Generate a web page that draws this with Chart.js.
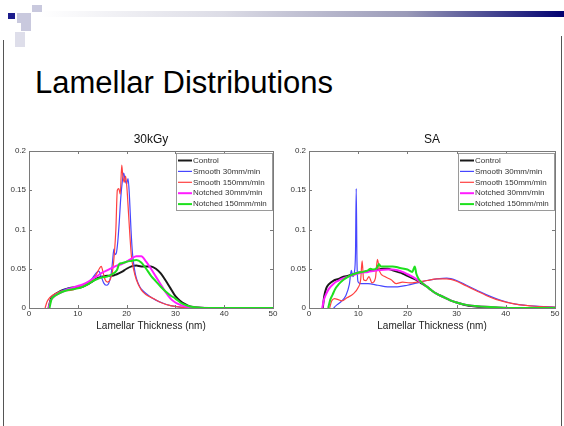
<!DOCTYPE html>
<html>
<head>
<meta charset="utf-8">
<title>Lamellar Distributions</title>
<script src="https://cdn.jsdelivr.net/npm/chart.js@4.4.1/dist/chart.umd.min.js"></script>
<style>
body { margin: 0; width: 564px; height: 426px; background: #fff; position: relative; overflow: hidden; font-family: "Liberation Sans", Arial, sans-serif; }
.bar { position: absolute; left: 40px; top: 11px; width: 524px; height: 6px; background: linear-gradient(to right, #ffffff 0%, #dcdce6 35%, #9a9ab8 70%, #000070 100%); }
.sq { position: absolute; background: #c9c9de; }
.sq.dark { background: #1c1c8c; }
.edge { position: absolute; width: 1px; background: #555; }
h1 { position: absolute; left: 35px; top: 67px; margin: 0; font-size: 31px; line-height: 31px; font-weight: normal; color: #000; white-space: nowrap; }
canvas { position: absolute; top: 130px; }
</style>
</head>
<body>
<div class="bar"></div>
<div class="sq" style="left:32px;top:5px;width:10px;height:7px"></div>
<div class="sq dark" style="left:8px;top:13px;width:7px;height:6px"></div>
<div class="sq" style="left:17px;top:13px;width:14px;height:10px"></div>
<div class="sq" style="left:21px;top:23px;width:10px;height:8px"></div>
<div class="sq" style="left:15px;top:32px;width:10px;height:15px;background:#dedeea"></div>
<div class="edge" style="left:3px;top:40px;height:386px"></div>
<div class="edge" style="left:561px;top:36px;height:390px"></div>
<h1>Lamellar Distributions</h1>
<canvas id="kgy" width="302" height="212" style="left:0px"></canvas>
<canvas id="sa" width="304" height="212" style="left:280px"></canvas>
<script>
'use strict'

let seriesNames = ['Control', 'Smooth 30mm/min', 'Smooth 150mm/min', 'Notched 30mm/min', 'Notched 150mm/min'];
let seriesColors = ['#1a1a1a', '#4646ff', '#ff4040', '#ff1cff', '#1ee01e'];
let seriesWidths = [2, 1.2, 1.2, 2, 2];
let xTicks = [0, 10, 20, 30, 40, 50];
let yTicks = [0, 0.05, 0.1, 0.15, 0.2];

// 30kGy
let kgyControlX = [4, 4.5, 5, 6, 7, 8, 9, 10, 11, 12, 13, 14, 15, 16, 17, 18, 19, 20, 21, 22, 23, 24, 25, 26, 27, 28, 29, 30, 31, 32, 33, 34, 36, 50];
let kgyControlY = [0, 0.012, 0.016, 0.02, 0.023, 0.025, 0.026, 0.026, 0.027, 0.03, 0.034, 0.038, 0.04, 0.041, 0.041, 0.043, 0.046, 0.05, 0.053, 0.054, 0.053, 0.053, 0.053, 0.05, 0.044, 0.035, 0.025, 0.015, 0.009, 0.005, 0.002, 0.001, 0, 0];
let kgySmooth30X = [4, 4.5, 5, 6, 7, 8, 9, 10, 11, 12, 13, 13.7, 14.3, 14.8, 15.3, 15.8, 16.3, 16.8, 17.1, 17.4, 17.6, 17.9, 18.2, 18.5, 18.8, 19.1, 19.4, 19.7, 20.0, 20.3, 20.6, 20.9, 21.2, 21.6, 22, 22.7, 23.5, 24.7, 26, 27.5, 29, 31, 34, 50];
let kgySmooth30Y = [0, 0.01, 0.015, 0.02, 0.023, 0.025, 0.026, 0.027, 0.028, 0.032, 0.038, 0.044, 0.047, 0.04, 0.032, 0.029, 0.031, 0.042, 0.058, 0.075, 0.068, 0.07, 0.085, 0.11, 0.14, 0.16, 0.172, 0.163, 0.158, 0.165, 0.14, 0.1, 0.07, 0.05, 0.038, 0.027, 0.021, 0.015, 0.01, 0.006, 0.003, 0.001, 0, 0];
let kgySmooth150X = [3.3, 3.7, 4.2, 5, 6, 7, 8, 9, 10, 11, 12, 13, 13.8, 14.4, 14.8, 15.2, 15.6, 16.1, 16.6, 17.1, 17.5, 17.8, 18.1, 18.4, 18.7, 19.0, 19.2, 19.5, 19.8, 20.1, 20.4, 20.7, 21.0, 21.4, 22, 23, 24, 25.5, 27, 29, 31, 34, 50];
let kgySmooth150Y = [0, 0.008, 0.013, 0.017, 0.02, 0.022, 0.022, 0.023, 0.026, 0.028, 0.031, 0.036, 0.043, 0.05, 0.053, 0.045, 0.036, 0.033, 0.036, 0.046, 0.07, 0.1, 0.15, 0.152, 0.145, 0.182, 0.17, 0.16, 0.168, 0.15, 0.12, 0.09, 0.065, 0.05, 0.036, 0.023, 0.017, 0.012, 0.007, 0.003, 0.001, 0, 0];
let kgyNotched30X = [4, 4.5, 5, 6, 7, 8, 9, 10, 11, 12, 13, 14, 15, 16, 17, 18, 19, 20, 21, 22, 23, 24, 25, 26, 27, 28, 29, 30, 31, 32, 34, 37, 50];
let kgyNotched30Y = [0, 0.01, 0.014, 0.018, 0.021, 0.024, 0.026, 0.028, 0.03, 0.033, 0.037, 0.041, 0.045, 0.048, 0.051, 0.054, 0.056, 0.059, 0.063, 0.066, 0.066, 0.059, 0.05, 0.04, 0.03, 0.02, 0.012, 0.007, 0.004, 0.002, 0.0005, 0, 0];
let kgyNotched150X = [4.2, 4.6, 5, 6, 7, 8, 9, 10, 11, 12, 13, 14, 15, 16, 17, 18, 18.5, 19, 19.5, 20, 21, 22, 23, 24, 25, 26, 27, 28, 29, 30, 31, 32, 33, 34, 36, 50];
let kgyNotched150Y = [0, 0.011, 0.014, 0.018, 0.021, 0.023, 0.024, 0.025, 0.027, 0.03, 0.034, 0.037, 0.039, 0.04, 0.043, 0.048, 0.056, 0.057, 0.058, 0.059, 0.06, 0.061, 0.058, 0.05, 0.041, 0.034, 0.027, 0.021, 0.016, 0.012, 0.007, 0.004, 0.002, 0.001, 0, 0];

// SA
let saControlX = [2.8, 3.1, 3.5, 4, 5, 6, 7, 8, 9, 10, 11, 12, 13, 14, 15, 16, 17, 18, 19, 20, 21, 22, 23, 24, 25, 26, 27, 28, 29, 30, 31, 32, 33, 35, 37, 40, 50];
let saControlY = [0, 0.015, 0.025, 0.03, 0.035, 0.037, 0.04, 0.041, 0.043, 0.045, 0.046, 0.047, 0.048, 0.049, 0.05, 0.05, 0.048, 0.046, 0.044, 0.041, 0.038, 0.035, 0.031, 0.027, 0.022, 0.018, 0.015, 0.012, 0.009, 0.007, 0.005, 0.0035, 0.0025, 0.0012, 0.0006, 0, 0];
let saSmooth30X = [5, 5.5, 6.5, 7.5, 8.2, 8.6, 8.9, 9.2, 9.45, 9.6, 9.75, 10, 10.5, 12, 14, 16, 18, 20, 22, 24, 26, 28, 30, 32, 34, 36, 38, 40, 42, 44, 46, 48, 50];
let saSmooth30Y = [0, 0.003, 0.008, 0.016, 0.03, 0.048, 0.04, 0.045, 0.07, 0.152, 0.06, 0.033, 0.031, 0.031, 0.029, 0.027, 0.027, 0.029, 0.032, 0.035, 0.037, 0.038, 0.035, 0.029, 0.023, 0.017, 0.012, 0.008, 0.005, 0.0035, 0.0025, 0.0018, 0.0012];
let saSmooth150X = [4.2, 4.6, 5.2, 5.8, 6.7, 7.7, 9, 10, 10.5, 10.8, 11.1, 11.6, 12.2, 12.8, 13.5, 13.9, 14.4, 15.4, 16.7, 17.7, 19, 20.5, 22, 24, 26, 28, 30, 32, 34, 36, 38, 40, 42, 44, 46, 48, 50];
let saSmooth150Y = [0, 0.009, 0.012, 0.011, 0.009, 0.013, 0.018, 0.026, 0.036, 0.06, 0.036, 0.035, 0.04, 0.032, 0.038, 0.062, 0.046, 0.04, 0.036, 0.031, 0.033, 0.032, 0.033, 0.035, 0.037, 0.037, 0.034, 0.028, 0.022, 0.016, 0.011, 0.0075, 0.005, 0.0033, 0.0022, 0.0015, 0.001];
let saNotched30X = [2.7, 3, 3.5, 4, 5, 6, 7, 8, 9, 10, 12, 14, 16, 17, 18, 19, 20, 21, 22, 23, 24, 25, 26, 27, 28, 29, 30, 32, 34, 36, 38, 42, 50];
let saNotched30Y = [0, 0.01, 0.018, 0.024, 0.031, 0.035, 0.038, 0.04, 0.042, 0.044, 0.046, 0.048, 0.049, 0.049, 0.048, 0.046, 0.043, 0.04, 0.036, 0.032, 0.027, 0.022, 0.018, 0.015, 0.012, 0.009, 0.007, 0.004, 0.0025, 0.0015, 0.0008, 0, 0];
let saNotched150X = [3.9, 4.3, 4.8, 5.3, 6, 7, 8, 9, 10, 11, 12, 12.5, 13, 13.8, 14.2, 14.6, 15.5, 17, 18.5, 20, 21, 21.5, 21.8, 22.2, 23, 24, 25, 26, 27, 28, 29, 30, 32, 34, 36, 38, 41, 50];
let saNotched150Y = [0, 0.01, 0.017, 0.024, 0.03, 0.036, 0.04, 0.043, 0.045, 0.046, 0.048, 0.05, 0.049, 0.051, 0.056, 0.053, 0.053, 0.053, 0.051, 0.049, 0.046, 0.053, 0.044, 0.038, 0.032, 0.027, 0.022, 0.018, 0.015, 0.012, 0.009, 0.007, 0.004, 0.0025, 0.0015, 0.0008, 0, 0];

let fontFamily = '"Liberation Sans", Arial, sans-serif';
Chart.defaults.font.family = fontFamily;

function toPoints(xs, ys) {
    let pts = [];
    for (let i = 0; i < xs.length; i++) {
        pts.push({ x: xs[i], y: ys[i] });
    }
    return pts;
}

// axes box with inward ticks, then the legend box in the top right corner
const boxAndLegend = {
    id: 'boxAndLegend',
    afterDatasetsDraw(chart) {
        const { ctx, chartArea } = chart;
        const sx = chart.scales.x;
        const sy = chart.scales.y;
        ctx.save();
        ctx.strokeStyle = '#7a7a7a';
        ctx.lineWidth = 1;
        ctx.strokeRect(Math.round(chartArea.left) + 0.5, Math.round(chartArea.top) + 0.5,
            Math.round(chartArea.width), Math.round(chartArea.height));
        ctx.beginPath();
        xTicks.forEach(v => {
            let px = Math.round(sx.getPixelForValue(v)) + 0.5;
            ctx.moveTo(px, chartArea.bottom); ctx.lineTo(px, chartArea.bottom - 3);
            ctx.moveTo(px, chartArea.top); ctx.lineTo(px, chartArea.top + 3);
        });
        yTicks.forEach(v => {
            let py = Math.round(sy.getPixelForValue(v)) + 0.5;
            ctx.moveTo(chartArea.left, py); ctx.lineTo(chartArea.left + 3, py);
            ctx.moveTo(chartArea.right, py); ctx.lineTo(chartArea.right - 3, py);
        });
        ctx.stroke();

        let w = 96, h = 57;
        let x0 = Math.round(chartArea.right) - w - 1;
        let y0 = Math.round(chartArea.top) + 2;
        ctx.fillStyle = '#fff';
        ctx.fillRect(x0, y0, w, h);
        ctx.strokeStyle = '#9a9a9a';
        ctx.strokeRect(x0 + 0.5, y0 + 0.5, w, h);
        ctx.font = '8px ' + fontFamily;
        ctx.textBaseline = 'middle';
        chart.data.datasets.forEach((ds, i) => {
            let y = y0 + 7.5 + i * 10.9;
            ctx.strokeStyle = ds.borderColor;
            ctx.lineWidth = ds.borderWidth;
            ctx.beginPath();
            ctx.moveTo(x0 + 2, y); ctx.lineTo(x0 + 16, y);
            ctx.stroke();
            ctx.fillStyle = '#333';
            ctx.fillText(ds.label, x0 + 17, y);
        });
        ctx.restore();
    }
};

function makeChart(id, title, xs, ys) {
    let datasets = [];
    for (let i = 0; i < seriesNames.length; i++) {
        datasets.push({
            label: seriesNames[i],
            data: toPoints(xs[i], ys[i]),
            borderColor: seriesColors[i],
            borderWidth: seriesWidths[i],
            pointRadius: 0,
            fill: false,
            cubicInterpolationMode: 'monotone',
            order: seriesNames.length - 1 - i
        });
    }
    return new Chart(document.getElementById(id), {
        type: 'line',
        data: { datasets: datasets },
        plugins: [boxAndLegend],
        options: {
            responsive: false,
            animation: false,
            devicePixelRatio: 1,
            layout: { padding: 0 },
            plugins: {
                legend: { display: false },
                tooltip: { enabled: false },
                title: {
                    display: true,
                    text: title,
                    color: '#111',
                    font: { size: 12, weight: 'normal' },
                    padding: { top: 2, bottom: 4.6 }
                }
            },
            scales: {
                x: {
                    type: 'linear',
                    min: 0,
                    max: 50,
                    grid: { display: false, drawTicks: false },
                    border: { display: false },
                    afterBuildTicks: s => { s.ticks = xTicks.map(v => ({ value: v })); },
                    ticks: { padding: 1, color: '#333', font: { size: 8 }, maxRotation: 0 },
                    title: { display: true, text: 'Lamellar Thickness (nm)', color: '#222', font: { size: 10 }, padding: { top: 0, bottom: 10 } },
                    afterFit: s => { s.height = 34; }
                },
                y: {
                    type: 'linear',
                    position: 'left',
                    min: 0,
                    max: 0.2,
                    grid: { display: false, drawTicks: false },
                    border: { display: false },
                    afterBuildTicks: s => { s.ticks = yTicks.map(v => ({ value: v })); },
                    ticks: { padding: 3, color: '#333', font: { size: 8 }, callback: v => String(+v.toFixed(2)) },
                    afterFit: s => { s.width = 29; }
                },
                // empty axis on the right so the title sits over the middle of the plot
                yR: {
                    type: 'linear',
                    position: 'right',
                    min: 0,
                    max: 0.2,
                    grid: { display: false, drawTicks: false },
                    border: { display: false },
                    ticks: { display: false },
                    afterFit: s => { s.width = 29; }
                }
            }
        }
    });
}

makeChart('kgy', '30kGy',
    [kgyControlX, kgySmooth30X, kgySmooth150X, kgyNotched30X, kgyNotched150X],
    [kgyControlY, kgySmooth30Y, kgySmooth150Y, kgyNotched30Y, kgyNotched150Y]);
makeChart('sa', 'SA',
    [saControlX, saSmooth30X, saSmooth150X, saNotched30X, saNotched150X],
    [saControlY, saSmooth30Y, saSmooth150Y, saNotched30Y, saNotched150Y]);
</script>
</body>
</html>
